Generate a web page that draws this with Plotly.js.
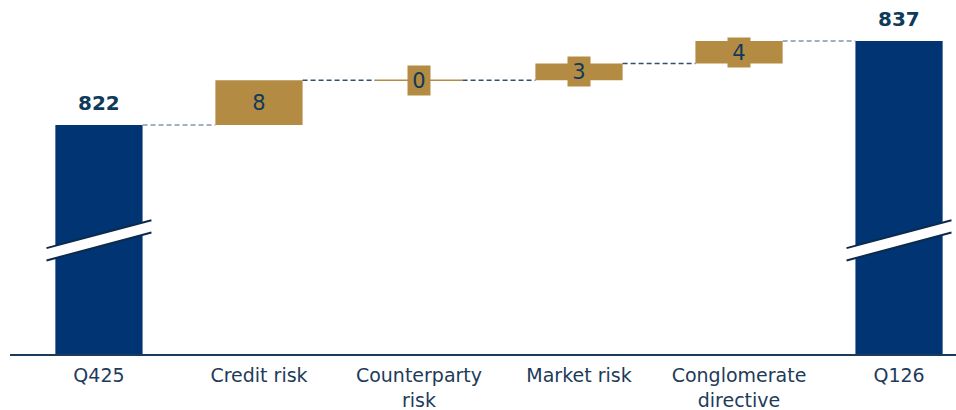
<!DOCTYPE html>
<html><head><meta charset="utf-8">
<script src="https://cdn.plot.ly/plotly-3.0.1.min.js"></script>
<style>html,body{margin:0;padding:0;background:#fff}</style>
</head><body><div id="chart" style="width:956px;height:410px"></div>
<script>
// ---- data ----
const categories = ['Q425', 'Credit risk', 'Counterparty<br>risk', 'Market risk', 'Conglomerate<br>directive', 'Q126'];
const measures = ['total', 'relative', 'relative', 'relative', 'relative', 'total'];
const values = [822, 8, 0, 3, 4, 837];
const valueLabels = ['822', '8', '0', '3', '4', '837'];

// ---- styles ----
const NAVY = '#003473', GOLD = '#b38b43', TEXT = '#0f3a5a', AXIS = '#1b3a5c';
const BW = 0.545;              // bar width (category units)
const BREAK_Y = 801.4, BREAK_GAP = 1.1, BREAK_SLOPE = 7.6, BREAK_HALF = 0.328;

// ---- compute waterfall geometry from data ----
const n = values.length;
const bases = [], tops = [];
let run = 0;
for (let i = 0; i < n; i++) {
  if (measures[i] === 'total') { bases.push(0); tops.push(values[i]); run = values[i]; }
  else { bases.push(run); tops.push(run + values[i]); run += values[i]; }
}
const xs = values.map((_, i) => i);
const totIdx = xs.filter(i => measures[i] === 'total');
const incIdx = xs.filter(i => measures[i] !== 'total' && values[i] !== 0);
const zeroIdx = xs.filter(i => measures[i] !== 'total' && values[i] === 0);

const traces = [];
traces.push({
  type: 'bar', x: totIdx, y: totIdx.map(i => values[i]), base: totIdx.map(i => bases[i]),
  width: BW, marker: {color: NAVY, line: {width: 0}}, hoverinfo: 'skip'
});
traces.push({
  type: 'bar', x: incIdx, y: incIdx.map(i => values[i]), base: incIdx.map(i => bases[i]),
  width: BW, marker: {color: GOLD, line: {width: 0}}, hoverinfo: 'skip'
});
zeroIdx.forEach(i => traces.push({
  type: 'scatter', mode: 'lines', x: [i - BW / 2, i + BW / 2], y: [bases[i], bases[i]],
  line: {color: GOLD, width: 1.5}, hoverinfo: 'skip'
}));
for (let i = 0; i < n - 1; i++) {
  const lvl = tops[i];
  const nearTotal = measures[i] === 'total' || measures[i + 1] === 'total';
  traces.push({
    type: 'scatter', mode: 'lines', x: [i + BW / 2, i + 1 - BW / 2], y: [lvl, lvl],
    line: {color: nearTotal ? '#8797aa' : '#33506f', width: 1.5, dash: '5px,3px'}, hoverinfo: 'skip'
  });
}

const shapes = [];
totIdx.forEach(i => {
  const xl = i - BREAK_HALF, xr = i + BREAK_HALF;
  const yl = BREAK_Y - BREAK_SLOPE * BREAK_HALF, yr = BREAK_Y + BREAK_SLOPE * BREAK_HALF;
  shapes.push({type: 'path', xref: 'x', yref: 'y',
    path: `M ${xl},${yl + BREAK_GAP} L ${xr},${yr + BREAK_GAP} L ${xr},${yr - BREAK_GAP} L ${xl},${yl - BREAK_GAP} Z`,
    fillcolor: '#ffffff', line: {width: 0}});
  [BREAK_GAP, -BREAK_GAP].forEach(g => shapes.push({type: 'line', xref: 'x', yref: 'y',
    x0: xl, y0: yl + g, x1: xr, y1: yr + g, line: {color: '#0c2a4c', width: 2}}));
});

const annotations = [];
xs.forEach(i => {
  if (measures[i] === 'total') {
    annotations.push({x: i, y: tops[i], xref: 'x', yref: 'y', yanchor: 'bottom', yshift: 8,
      text: '<b>' + valueLabels[i] + '</b>', showarrow: false,
      font: {family: 'DejaVu Sans', size: 20, color: TEXT}});
  } else {
    annotations.push({x: i, y: (bases[i] + tops[i]) / 2, xref: 'x', yref: 'y',
      text: valueLabels[i], showarrow: false, bgcolor: GOLD, borderpad: 1,
      width: 20, height: 27, align: 'center', valign: 'middle',
      font: {family: 'DejaVu Sans', size: 21, color: TEXT}});
  }
});

const layout = {
  width: 956, height: 410,
  margin: {l: 10, r: 0, t: 0, b: 56},
  paper_bgcolor: '#ffffff', plot_bgcolor: '#ffffff',
  showlegend: false, barmode: 'overlay',
  xaxis: {range: [-0.556, 5.356], tickvals: xs, ticktext: categories, showgrid: false, zeroline: false,
    showline: true, linecolor: AXIS, linewidth: 2, ticks: '', fixedrange: true, ticklabelstandoff: 3,
    tickfont: {family: 'DejaVu Sans, sans-serif', size: 19, color: '#1e3b5a'}},
  yaxis: {range: [781.1, 844.32], visible: false, showgrid: false, zeroline: false, fixedrange: true},
  shapes: shapes, annotations: annotations
};
Plotly.newPlot('chart', traces, layout, {displayModeBar: false, staticPlot: true});
</script></body></html>
